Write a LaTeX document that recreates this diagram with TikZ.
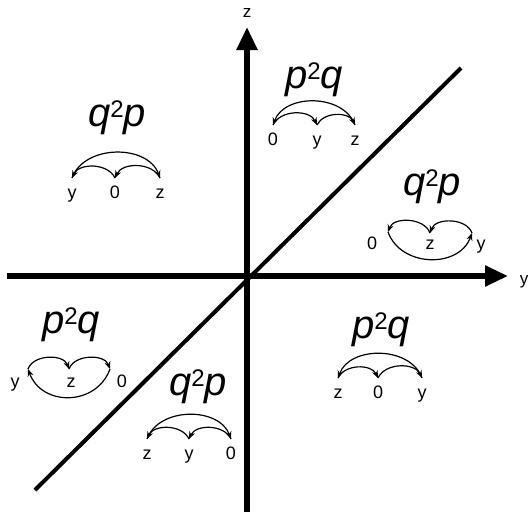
\documentclass[tikz,border=0pt]{standalone}
\usepackage{fontspec}
\setmainfont{Liberation Sans}
\usetikzlibrary{arrows.meta}
\newcommand{\qqp}{\textit{q}\raisebox{9pt}{\fontsize{24}{24}\selectfont 2}\textit{p}}
\newcommand{\ppq}{\textit{p}\raisebox{9pt}{\fontsize{24}{24}\selectfont 2}\textit{q}}
\begin{document}
\begin{tikzpicture}[x=1pt,y=1pt,
  axisline/.style={line width=5.5pt},
  axistip/.style={-{Triangle[length=23pt,width=20pt]}},
  diagline/.style={line width=4pt},
  axlab/.style={font=\fontsize{17}{17}\selectfont, inner sep=0pt},
  lab/.style={font=\fontsize{18}{18}\selectfont, inner sep=0pt, anchor=base},
  big/.style={font=\fontsize{40}{40}\selectfont, inner sep=0pt, anchor=base},
  arc/.style={line width=1.2pt, -{Stealth[length=7.5pt,width=6pt]}},
  sm/.style={out=#1,in=180-#1},
  bg/.style={out=#1,in=180-#1,looseness=1.05}
]
\useasboundingbox (0,0) rectangle (532,-520);
% axes
\coordinate (hl) at (7,-276);
\coordinate (hr) at (508,-276);
\coordinate (vb) at (247,-512);
\coordinate (vt) at (247,-27);
\coordinate (dl) at (35,-490);
\coordinate (dr) at (461,-68);
\draw[axisline,axistip] (hl) -- (hr);
\draw[axisline,axistip] (vb) -- (vt);
\draw[diagline] (dl) -- (dr);
\node[axlab] (ylab) at (524,-282) {y};
\node[axlab] (zlab) at (247,-13) {z};

% top-left q2p
\node[big] (tlT) at (117,-126) {\qqp};
\node[lab] (tlY) at (72,-198) {y};
\node[lab] (tlO) at (115,-198) {0};
\node[lab] (tlZ) at (160,-198) {z};
\draw[arc] ([yshift=20pt]tlZ.base) to[sm=115] ([yshift=20pt]tlO.base);
\draw[arc] ([yshift=20pt]tlO.base) to[sm=115] ([yshift=20pt]tlY.base);
\draw[arc] ([yshift=20pt]tlY.base) to[bg=70] ([yshift=20pt]tlZ.base);

% top p2q
\node[big] (tT) at (314,-88) {\ppq};
\node[lab] (tO) at (273,-145) {0};
\node[lab] (tY) at (317,-145) {y};
\node[lab] (tZ) at (355,-145) {z};
\draw[arc] ([yshift=20pt]tO.base) to[sm=65] ([yshift=20pt]tY.base);
\draw[arc] ([yshift=20pt]tY.base) to[sm=65] ([yshift=20pt]tZ.base);
\draw[arc] ([yshift=20pt]tZ.base) to[bg=110] ([yshift=20pt]tO.base);

% right q2p
\node[big] (rT) at (432,-195) {\qqp};
\node[lab] (rO) at (372,-249) {0};
\node[lab] (rZ) at (430,-249) {z};
\node[lab] (rY) at (481,-249) {y};
\draw[arc] ([xshift=-9pt,yshift=16pt]rY.base) to[sm=110] ([yshift=16pt]rZ.base);
\draw[arc] ([yshift=16pt]rZ.base) to[sm=110] ([xshift=16pt,yshift=17pt]rO.base);
\draw[arc] ([xshift=16pt,yshift=17pt]rO.base) to[out=-70,in=-110,looseness=1.15] ([xshift=-9pt,yshift=16pt]rY.base);

% left p2q
\node[big] (lT) at (71,-333) {\ppq};
\node[lab] (lY) at (15,-387) {y};
\node[lab] (lZ) at (71,-387) {z};
\node[lab] (lO) at (122,-387) {0};
\draw[arc] ([xshift=13pt,yshift=18pt]lY.base) to[sm=70] ([xshift=-2pt,yshift=18pt]lZ.base);
\draw[arc] ([xshift=-2pt,yshift=18pt]lZ.base) to[sm=70] ([xshift=-12pt,yshift=18pt]lO.base);
\draw[arc] ([xshift=-12pt,yshift=18pt]lO.base) to[out=-110,in=-70,looseness=1.25] ([xshift=13pt,yshift=18pt]lY.base);

% bottom-middle q2p
\node[big] (bmT) at (198,-395) {\qqp};
\node[lab] (bmZ) at (147,-459) {z};
\node[lab] (bmY) at (189,-459) {y};
\node[lab] (bmO) at (231,-459) {0};
\draw[arc] ([yshift=20pt]bmO.base) to[sm=115] ([yshift=20pt]bmY.base);
\draw[arc] ([yshift=20pt]bmY.base) to[sm=115] ([yshift=20pt]bmZ.base);
\draw[arc] ([yshift=20pt]bmZ.base) to[bg=70] ([yshift=20pt]bmO.base);

% bottom-right p2q
\node[big] (brT) at (381,-338) {\ppq};
\node[lab] (brZ) at (338,-398) {z};
\node[lab] (brO) at (378,-398) {0};
\node[lab] (brY) at (422,-398) {y};
\draw[arc] ([yshift=20pt]brZ.base) to[sm=65] ([yshift=20pt]brO.base);
\draw[arc] ([yshift=20pt]brO.base) to[sm=65] ([yshift=20pt]brY.base);
\draw[arc] ([yshift=20pt]brY.base) to[bg=110] ([yshift=20pt]brZ.base);
\end{tikzpicture}
\end{document}
